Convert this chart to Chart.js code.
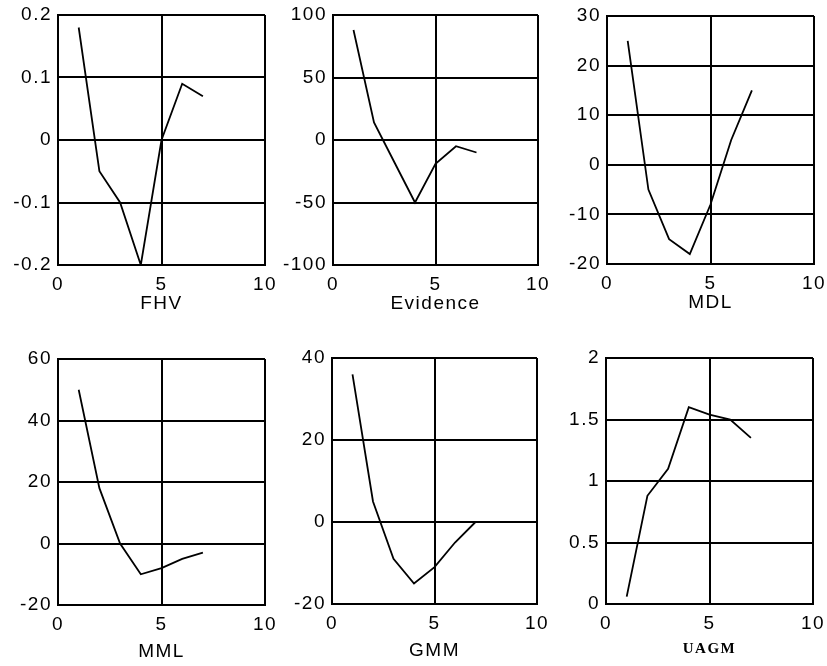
<!DOCTYPE html>
<html>
<head>
<meta charset="utf-8">
<title>Criterion curves</title>
<script src="https://cdn.jsdelivr.net/npm/chart.js@4.4.1/dist/chart.umd.min.js"></script>
<style>
  html, body { margin: 0; padding: 0; background: #fff; }
  body { width: 827px; height: 666px; position: relative; overflow: hidden; }
  .panel { position: absolute; }
  .panel canvas { display: block; }
</style>
</head>
<body>
<script>
// number of components on the x axis
const xValues = [1, 2, 3, 4, 5, 6, 7];
const xTicks = [0, 5, 10];

// criterion values, one list per method
const fhv = [0.18, -0.05, -0.1, -0.2, 0, 0.09, 0.07];
const evidence = [88, 14, -18, -50, -19, -5, -10];
const mdl = [25, -5, -15, -18, -8, 5, 15];
const mml = [50, 18, 0, -10, -8, -5, -3];
const gmm = [36, 5, -9, -15, -11, -5, 0];
const uagm = [0.06, 0.88, 1.1, 1.6, 1.54, 1.5, 1.35];

const titles = ["FHV", "Evidence", "MDL", "MML", "GMM", "UAGM"];
const series = [fhv, evidence, mdl, mml, gmm, uagm];
const yMins = [-0.2, -100, -20, -20, -20, 0];
const yMaxs = [0.2, 100, 30, 60, 40, 2];
const ySteps = [0.1, 50, 10, 20, 20, 0.5];

// plot rectangles on the page: [left, top, right, bottom], plus x-axis band height
const plotBoxes = [
    [58, 15, 265, 265, 50],
    [333, 15, 538, 265, 50],
    [607, 16, 814, 264, 50],
    [58, 359, 265, 605, 58],
    [332, 358, 537, 604, 58],
    [606, 358, 813, 604, 54],
];

const AXIS_W = 56;
const PAD_TOP = 14;
const PAD_RIGHT = 13;

const sansFont = "'Liberation Sans', Arial, Helvetica, sans-serif";
const serifFont = "'Liberation Serif', 'Times New Roman', serif";

Chart.defaults.color = "#000";
Chart.defaults.font.family = sansFont;
Chart.defaults.font.size = 19;

// the printed labels are a little wider than the plain font
const letterSpacing = {
    id: "letterSpacing",
    beforeDraw(chart) {
        chart.ctx.letterSpacing = "1.5px";
    },
};

function formatTick(value) {
    return String(Math.round(value * 1000) / 1000);
}

function buildPanel(i) {
    const [left, top, right, bottom, axisH] = plotBoxes[i];
    const width = AXIS_W + (right - left) + PAD_RIGHT;
    const height = PAD_TOP + (bottom - top) + axisH;

    const wrap = document.createElement("div");
    wrap.className = "panel";
    wrap.style.left = (left - AXIS_W) + "px";
    wrap.style.top = (top - PAD_TOP) + "px";
    const canvas = document.createElement("canvas");
    canvas.width = width;
    canvas.height = height;
    wrap.appendChild(canvas);
    document.body.appendChild(wrap);

    const isSerif = titles[i] === "UAGM";
    const points = xValues.map((x, k) => ({ x: x, y: series[i][k] }));

    return new Chart(canvas.getContext("2d"), {
        type: "line",
        data: {
            datasets: [{
                data: points,
                borderColor: "#000",
                borderWidth: 1.8,
                pointRadius: 0,
                tension: 0,
                fill: false,
            }],
        },
        options: {
            responsive: false,
            animation: false,
            devicePixelRatio: 1,
            layout: {
                padding: { top: PAD_TOP, right: PAD_RIGHT, bottom: 0, left: 0 },
            },
            plugins: {
                legend: { display: false },
                tooltip: { enabled: false },
            },
            scales: {
                x: {
                    type: "linear",
                    min: xTicks[0],
                    max: xTicks[xTicks.length - 1],
                    afterBuildTicks: (scale) => {
                        scale.ticks = xTicks.map((v) => ({ value: v }));
                    },
                    // fixed band height, and let the end labels hang into the padding
                    afterFit: (scale) => {
                        scale.height = axisH;
                        scale.paddingLeft = 0;
                        scale.paddingRight = 0;
                    },
                    grid: { color: "#000", lineWidth: 2, drawTicks: false },
                    border: { color: "#000", width: 2 },
                    ticks: { padding: 8, maxRotation: 0, callback: formatTick },
                    title: {
                        display: true,
                        text: titles[i],
                        padding: 0,
                        font: isSerif
                            ? { family: serifFont, size: 15, weight: "bold" }
                            : { family: sansFont, size: 19 },
                    },
                },
                y: {
                    min: yMins[i],
                    max: yMaxs[i],
                    afterFit: (scale) => {
                        scale.width = AXIS_W;
                        scale.paddingTop = 0;
                        scale.paddingBottom = 0;
                    },
                    grid: { color: "#000", lineWidth: 2, drawTicks: false },
                    border: { color: "#000", width: 2 },
                    ticks: { stepSize: ySteps[i], padding: 6, callback: formatTick },
                },
            },
        },
        plugins: [letterSpacing],
    });
}

const charts = titles.map((t, i) => buildPanel(i));
</script>
</body>
</html>
